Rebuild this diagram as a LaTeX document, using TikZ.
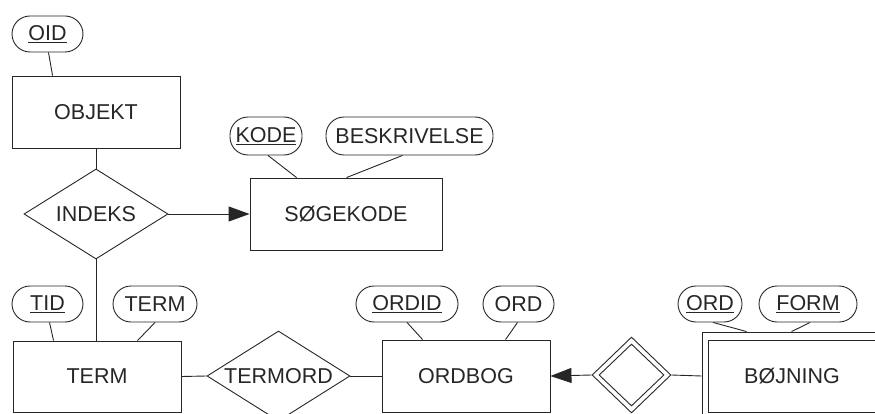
\documentclass[tikz,border=0pt]{standalone}
\usepackage{fontspec}
\setmainfont{Liberation Sans}
\usetikzlibrary{shapes.geometric,arrows.meta}
\colorlet{ink}{black!85}
\tikzset{
  every node/.style={font=\fontsize{21.5}{25}\selectfont, text=ink},
  ent/.style={draw=ink, line width=0.9pt, rectangle, inner sep=0pt, minimum width=168pt, minimum height=72pt},
  attr/.style={draw=ink, line width=0.9pt, rectangle, rounded corners=18pt, inner sep=0pt, minimum height=36pt, minimum width=#1},
  rel/.style={draw=ink, line width=0.9pt, diamond, aspect=1.6, inner sep=0pt, minimum width=#1},
  conn/.style={draw=ink, line width=0.9pt},
  tip/.style={-{Triangle[length=21pt,width=15pt]}}
}
\begin{document}
\begin{tikzpicture}[x=1pt,y=-1pt]
\useasboundingbox (0,0) rectangle (875,414);
\clip (0,0) rectangle (875,414);

% entities
\node[ent] (objekt) at (96,112) {OBJEKT};
\node[ent, minimum width=192pt] (sogekode) at (346,214) {SØGEKODE};
\node[ent, minimum height=71pt] (term) at (97,376.5) {TERM};
\node[ent] (ordbog) at (466,376) {ORDBOG};
\node[draw=ink, line width=0.9pt, rectangle, inner sep=0pt, minimum width=180pt, minimum height=88pt] (bojo) at (792,376) {};
\node[ent] (bojning) at (792,376) {BØJNING};

% relationships
\node[rel=144pt, minimum height=90pt] (indeks) at (96,214) {INDEKS};
\node[rel=143pt, minimum height=90pt] (termord) at (278.5,376) {TERMORD};
\node[rel=79pt, minimum height=76pt, aspect=1] (wr) at (631.5,375) {};
\node[rel=65pt, minimum height=62pt, aspect=1] (wrin) at (631.5,375) {};

% attributes
\node[attr=71pt] (oid) at (47.5,34) {\underline{OID}};
\node[attr=72pt, minimum height=38pt] (kode) at (266,136) {\underline{KODE}};
\node[attr=167pt, minimum height=38pt] (beskr) at (409.5,136) {BESKRIVELSE};
\node[attr=71pt] (tid) at (47.5,304) {\underline{TID}};
\node[attr=84pt] (termattr) at (155,304) {TERM};
\node[attr=102pt] (ordid) at (407,304) {\underline{ORDID}};
\node[attr=71pt] (ordattr) at (518.5,304) {ORD};
\node[attr=64pt] (bord) at (710,304) {\underline{ORD}};
\node[attr=98pt] (form) at (808,304) {\underline{FORM}};

% attribute connectors
\draw[conn] ([xshift=1pt]oid.south) -- ([xshift=41pt]objekt.north west);
\draw[conn] ([xshift=2pt]kode.south) -- ([xshift=47pt]sogekode.north west);
\draw[conn] ([xshift=-7pt]beskr.south) -- ([xshift=97pt]sogekode.north west);
\draw[conn] ([xshift=2pt]tid.south) -- ([xshift=41pt]term.north west);
\draw[conn] (termattr.south) -- ([xshift=125pt]term.north west);
\draw[conn] (ordid.south) -- ([xshift=41pt]ordbog.north west);
\draw[conn] ([xshift=-1pt]ordattr.south) -- ([xshift=124pt]ordbog.north west);
\draw[conn] ([xshift=3pt]bord.south) -- ([xshift=45pt]bojo.north west);
\draw[conn] ([xshift=2pt]form.south) -- ([xshift=90pt]bojo.north west);

% relationship connectors
\draw[conn] (objekt.south) -- (indeks.north);
\draw[conn] (indeks.south) -- (indeks.south |- term.north);
\draw[conn, tip] (indeks.east) -- (sogekode.west);
\draw[conn] (term.east) -- (termord.west);
\draw[conn] (termord.east) -- (ordbog.west);
\draw[conn, tip] (wr.west) -- (ordbog.east);
\draw[conn] (wr.east) -- (bojo.west);
\end{tikzpicture}
\end{document}
